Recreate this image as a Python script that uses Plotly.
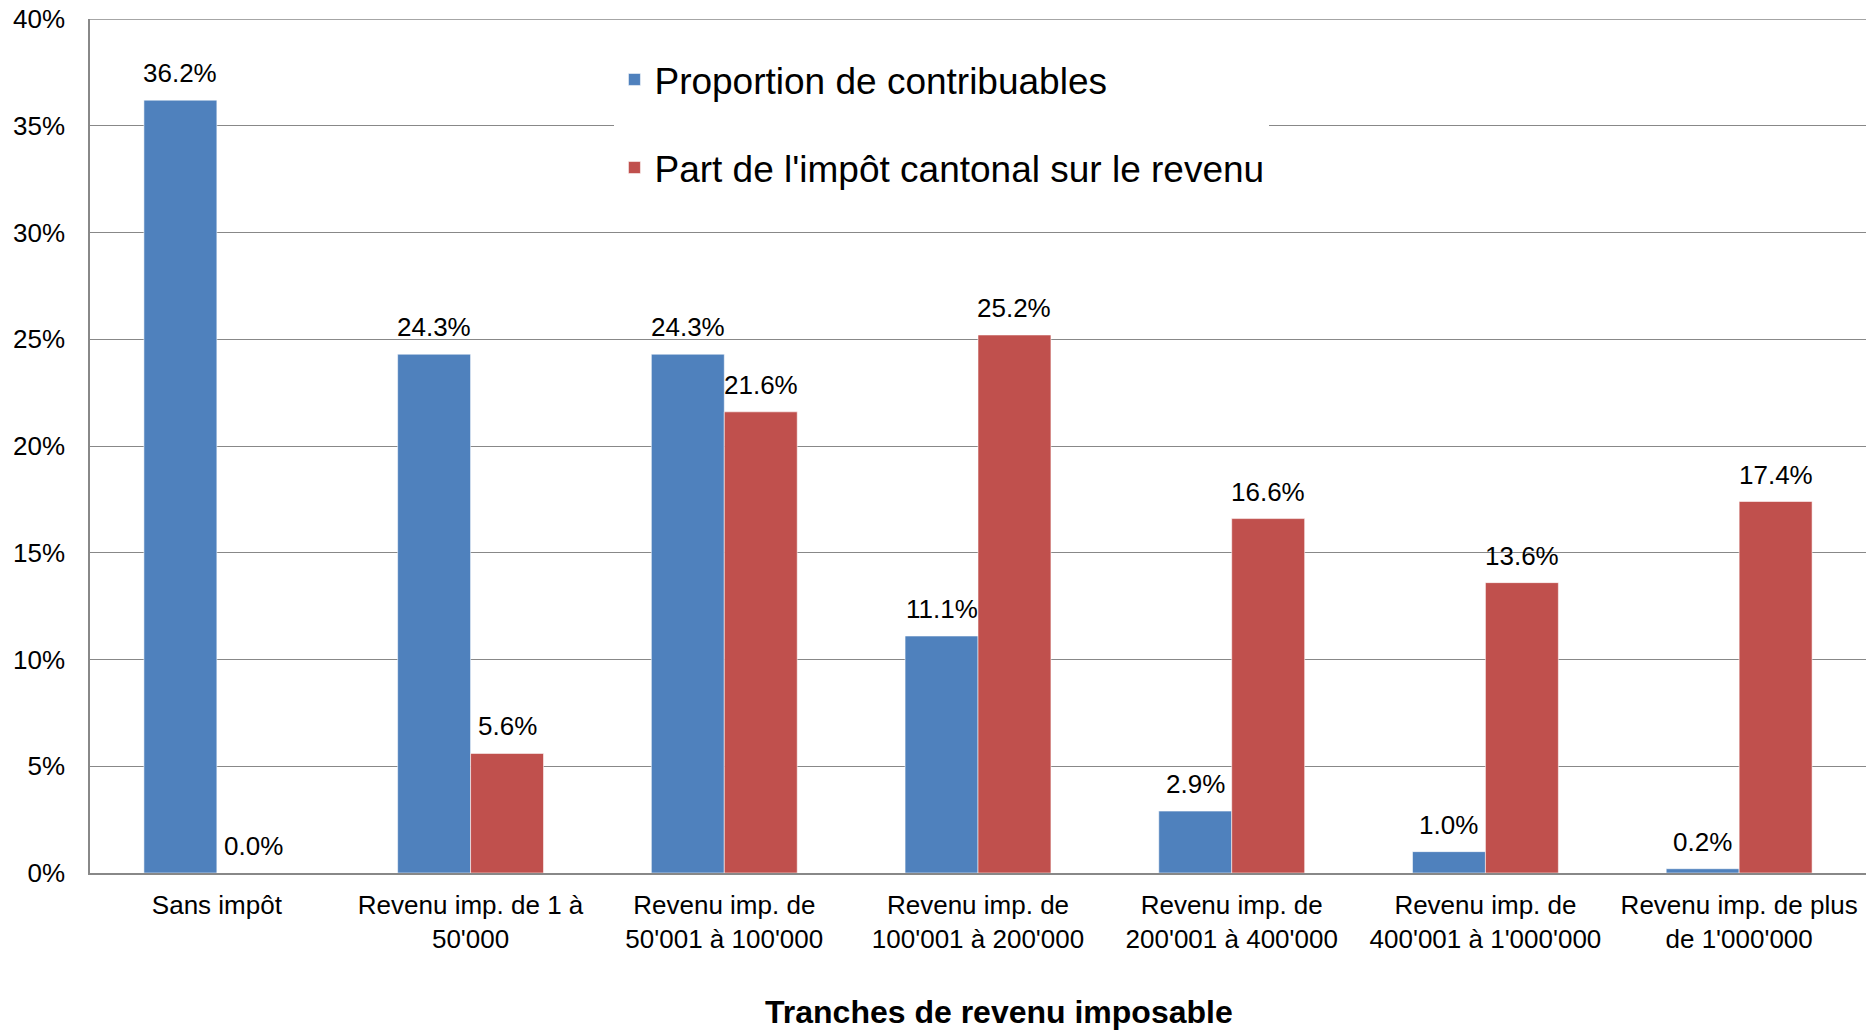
import plotly.graph_objects as go

categories = [
    "Sans impôt",
    "Revenu imp. de 1 à<br>50'000",
    "Revenu imp. de<br>50'001 à 100'000",
    "Revenu imp. de<br>100'001 à 200'000",
    "Revenu imp. de<br>200'001 à 400'000",
    "Revenu imp. de<br>400'001 à 1'000'000",
    "Revenu imp. de plus<br>de 1'000'000",
]
proportion_contribuables = [36.2, 24.3, 24.3, 11.1, 2.9, 1.0, 0.2]
part_impot = [0.0, 5.6, 21.6, 25.2, 16.6, 13.6, 17.4]
series_names = ["Proportion de contribuables", "Part de l'impôt cantonal sur le revenu"]
y_ticks = [0, 5, 10, 15, 20, 25, 30, 35, 40]
y_tick_labels = ["0%", "5%", "10%", "15%", "20%", "25%", "30%", "35%", "40%"]
x_title = "Tranches de revenu imposable"

FONT = "Liberation Sans, Arial, sans-serif"
BLUE = "#4F81BD"
RED = "#C0504D"
GRID = "#888888"

W, H = 1873, 1031
ML, MR, MT, MB = 90, 7, 19, 158
BARGAP = 0.425

fig = go.Figure()
series = [
    (series_names[0], proportion_contribuables, BLUE, "a"),
    (series_names[1], part_impot, RED, "b"),
]
for name, vals, col, grp in series:
    fig.add_trace(go.Bar(
        x=categories, y=vals, name=name, legendgroup=grp,
        marker=dict(color=col, line=dict(color="rgba(255,255,255,0.55)", width=1)),
        cliponaxis=False, hoverinfo="x+y",
    ))

# data labels placed on the library's axes, offset to the grouped bar centres
cat_px = (W - ML - MR) / len(categories)
bar_px = cat_px * (1 - BARGAP) / len(series)
for i, (name, vals, col, grp) in enumerate(series):
    shift = (i - (len(series) - 1) / 2) * bar_px
    for c, v in zip(categories, vals):
        fig.add_annotation(
            x=c, y=v, xref="x", yref="y", text=f"{v:.1f}%", showarrow=False,
            xshift=shift, yshift=27, yanchor="middle",
            font=dict(family=FONT, size=26, color="black"),
        )

# top gridline (plotly drops the gridline that sits on the range end)
fig.add_hline(y=y_ticks[-1], line=dict(color=GRID, width=1.3), layer="below")

# axis title
fig.add_annotation(
    x=0.512, y=-0.1625, xref="paper", yref="paper", xanchor="center", yanchor="middle",
    text=f"<b>{x_title}</b>", showarrow=False,
    font=dict(family=FONT, size=32, color="black"),
)

fig.update_layout(
    width=W, height=H,
    paper_bgcolor="white", plot_bgcolor="white",
    margin=dict(l=ML, r=MR, t=MT, b=MB, autoexpand=False),
    barmode="group", bargap=BARGAP, bargroupgap=0,
    font=dict(family=FONT, size=26, color="black"),
    showlegend=True,
    legend=dict(
        x=0.2953, y=0.965, xanchor="left", yanchor="top",
        bgcolor="white", borderwidth=0,
        font=dict(family=FONT, size=37, color="black"),
        tracegroupgap=37, traceorder="grouped",
    ),
    xaxis=dict(
        automargin=False,
        showline=True, linecolor=GRID, linewidth=1.5,
        ticks="outside", ticklen=8, tickcolor="rgba(0,0,0,0)",
        tickfont=dict(family=FONT, size=26, color="black"),
        showgrid=False,
    ),
    yaxis=dict(
        automargin=False,
        range=[0, 40], tickvals=y_ticks, ticktext=y_tick_labels,
        ticklabeloverflow="allow",
        showline=True, linecolor=GRID, linewidth=1.5,
        showgrid=True, gridcolor=GRID, gridwidth=1.3,
        ticks="outside", ticklen=18, tickcolor="rgba(0,0,0,0)",
        tickfont=dict(family=FONT, size=26, color="black"),
        zeroline=False,
    ),
)

# remove the browser's default 8px page margin so the figure fills the window
fig.write_html(
    "out.html",
    config={"displayModeBar": False},
    post_script="document.body.style.margin='0';",
)
